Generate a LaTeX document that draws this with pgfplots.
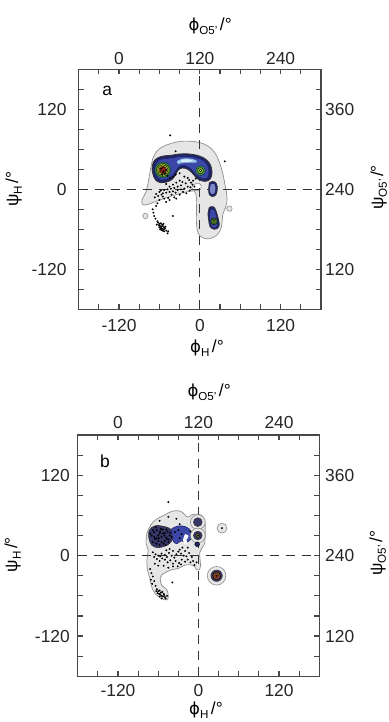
\documentclass[border=0pt]{standalone}
\usepackage{fontspec}
\setmainfont{Liberation Sans}
\newfontfamily\dvs{DejaVu Sans}
\usepackage{pgfplots}
\pgfplotsset{compat=1.18}

\definecolor{gfill}{HTML}{E6E6E6}
\definecolor{gline}{HTML}{8E8E8E}
\definecolor{navy}{HTML}{1F2468}
\definecolor{royal}{HTML}{3B48A8}
\definecolor{lblue}{HTML}{9CC7EA}
\definecolor{cyanw}{HTML}{D2EEF8}
\definecolor{cgreen}{HTML}{3E9A3A}
\definecolor{lgreen}{HTML}{8CC43C}
\definecolor{cyellow}{HTML}{E6D42E}
\definecolor{corange}{HTML}{DE7A2A}
\definecolor{cred}{HTML}{A42222}
\definecolor{axgray}{HTML}{474747}
\definecolor{olivec}{HTML}{8E8C3C}
\definecolor{brownc}{HTML}{7A3C22}
\definecolor{darkc}{HTML}{363668}
\definecolor{lav}{HTML}{7E88C8}

\newcommand{\tfont}{\fontsize{17.4bp}{20bp}\selectfont}
\newcommand{\sfont}{\fontsize{11.6bp}{12bp}\selectfont}
\newcommand{\alab}[2]{{\tfont #1\raisebox{-3.8bp}{\sfont #2}\hspace{2.5bp}/°}}
\newcommand{\phig}{{\dvs\fontsize{16.5bp}{20bp}\selectfont ϕ}}

\pgfplotsset{
  panel/.style={scale only axis, xmin=-180, xmax=180, ymin=-180, ymax=180,
    axis line style={axgray, line width=1.2bp},
    tick style={axgray, line width=1.2bp},
    tick align=inside, major tick length=5bp, minor tick length=5bp,
    xtick={-120,0,120}, ytick={-120,0,120},
    minor xtick={-150,-90,-60,-30,30,60,90,150},
    minor ytick={-150,-90,-60,-30,30,60,90,150},
    xtick pos=both, ytick pos=both, xticklabel pos=left, yticklabel pos=left,
    xticklabels={-120,0,120}, yticklabels={-120,0,120},
    tick label style={font=\tfont, inner sep=0pt, text=black!85},
    xticklabel style={anchor=north}, yticklabel style={anchor=east}},
  overpanel/.style={scale only axis, xmin=-180, xmax=180, ymin=-180, ymax=180,
    axis x line*=top, axis y line*=right, axis line style={draw=none},
    major tick length=0pt, tick style={draw=none},
    xtick={-120,0,120}, ytick={-120,0,120},
    xticklabels={0,120,240}, yticklabels={120,240,360},
    tick label style={font=\tfont, inner sep=0pt, text=black!85},
    xticklabel style={anchor=south}, yticklabel style={anchor=west}},
  grey/.style={fill=gfill, draw=gline, line width=0.7bp, smooth, tension=0.55},
  dots/.style={only marks, mark=*, mark size=0.75bp, mark options={fill=black, draw=none}},
  dash/.style={black!80, line width=1.2bp, dash pattern=on 9bp off 7bp},
  blob/.style={only marks, mark=*, mark size=#1},
}

\begin{document}
\begin{tikzpicture}
\useasboundingbox (0,0) rectangle (389bp,722bp);

% ================= panel a =================
\begin{axis}[panel, at={(78.7bp,412.7bp)}, anchor=south west, width=242.3bp, height=240bp,
  xticklabel style={yshift=-10bp}, yticklabel style={xshift=-12bp}]
\addplot[grey] coordinates {(-70,46) (-64,57) (-55,64) (-42,69) (-28,72) (-12,72) (0,70) (10,66) (19,59) (25,50) (30,38) (34,24) (37,9) (40,-8) (40,-20) (38,-28) (34,-38) (33,-50) (31,-60) (25,-69) (15,-74) (5,-73) (-2,-67) (-5,-52) (-5,-32) (-5,-14) (-8,-3) (-20,-4) (-35,-8) (-50,-13) (-65,-18) (-78,-23) (-85,-23) (-86,-16) (-80,-4) (-76,14) (-73,32) (-70,46)};
\addplot[blob=2.7bp, mark options={fill=gfill, draw=gline, line width=0.6bp}] coordinates {(-81,-40) (44,-29)};
\addplot[fill=white, draw=gline, line width=0.6bp, smooth] coordinates {(-12,3) (-7,8) (-1,9) (2,6) (1,0) (-4,-2) (-10,-1) (-12,3)};
\addplot[dash] coordinates {(0,-180) (0,180)};
\addplot[dash] coordinates {(-180,0) (180,0)};
% band
\addplot[fill=navy, draw=black!80, line width=0.8bp, smooth, tension=0.55] coordinates {(-69,20) (-71,31) (-69,41) (-63,47) (-54,50) (-43,51) (-30,53) (-16,53) (-4,51) (6,47) (13,41) (17,33) (18,23) (15,15) (9,12) (2,13) (-5,17) (-11,24) (-18,30) (-26,32) (-32,29) (-36,22) (-41,15) (-49,11) (-58,10) (-65,13) (-69,20)};
\addplot[fill=royal, draw=navy, line width=0.5bp, smooth, tension=0.55] coordinates {(-66,22) (-67,31) (-65,39) (-60,44) (-52,46) (-42,47) (-30,49) (-16,49) (-5,47) (4,44) (10,38) (13,30) (13,21) (9,16) (2,17) (-5,21) (-11,28) (-18,34) (-26,36) (-32,33) (-37,26) (-42,19) (-50,15) (-58,14) (-63,17) (-66,22)};
\addplot[fill=lblue, draw=none, smooth, tension=0.55] coordinates {(-34,42) (-26,46) (-14,46) (-5,43) (-6,40) (-14,40) (-24,40) (-32,38) (-34,42)};
\addplot[fill=cyanw, draw=none, smooth, tension=0.55] coordinates {(-28,44) (-18,45) (-10,43) (-16,41) (-26,41) (-28,44)};
% left cluster
\addplot[blob=8bp, mark options={fill=cgreen, draw=navy, line width=0.5bp}] coordinates {(-55,29)};
\addplot[blob=6.4bp, mark options={fill=lgreen, draw=none}] coordinates {(-55,29)};
\addplot[blob=5.2bp, mark options={fill=cyellow, draw=none}] coordinates {(-55,29)};
\addplot[blob=3.9bp, mark options={fill=corange, draw=none}] coordinates {(-55,29)};
\addplot[blob=2.8bp, mark options={fill=cred, draw=none}] coordinates {(-55,29)};
% right cluster
\addplot[blob=5bp, mark options={fill=cgreen, draw=navy, line width=0.5bp}] coordinates {(1,28)};
\addplot[blob=3bp, mark options={fill=lgreen, draw=none}] coordinates {(1,28)};
\addplot[blob=1.2bp, mark options={fill=cyellow, draw=none}] coordinates {(1,28)};
% blob near origin
\addplot[fill=navy, draw=black!80, line width=0.6bp, smooth, tension=0.55] coordinates {(14,10) (20,12) (25,8) (26,0) (24,-8) (19,-11) (14,-8) (13,0) (14,10)};
\addplot[fill=lav, draw=none, smooth, tension=0.55] coordinates {(16,7) (21,8) (23,3) (22,-5) (18,-7) (15,-3) (16,7)};
% lower lobe
\addplot[fill=navy, draw=black!80, line width=0.6bp, smooth, tension=0.55] coordinates {(14,-27) (20,-26) (24,-32) (27,-42) (29,-52) (27,-58) (21,-60) (15,-56) (13,-46) (12,-36) (14,-27)};
\addplot[fill=royal, draw=none, smooth, tension=0.55] coordinates {(16,-31) (21,-31) (24,-40) (26,-50) (24,-56) (19,-57) (16,-50) (15,-40) (16,-31)};
\addplot[blob=3.4bp, mark options={fill=cgreen, draw=none}] coordinates {(21,-48)};
\addplot[blob=2.2bp, mark options={fill=lgreen, draw=none}] coordinates {(21,-48)};
\addplot[blob=1bp, mark options={fill=cyellow, draw=none}] coordinates {(21,-48)};
% points
\addplot[dots] coordinates {(-44,81) (-36,57) (37,42) (-40,-40)
(-23,19) (-18,17) (-16,14) (-26,11) (-21,9) (-13,10) (-11,7) (-28,6) (-33,4) (-38,2) (-43,1) (-48,0) (-53,-1) (-58,-2) (-60,-4) (-55,-6) (-50,-5) (-45,-4) (-40,-3) (-33,-1) (-28,0) (-23,1) (-18,4) (-14,3) (-8,4) (-55,-11) (-53,-14) (-60,-16) (-50,-19) (-63,-21) (-65,-25) (-36,-5) (-30,-8) (-25,-4) (-42,-8) (-47,-13) (-57,-8) (-62,-10) (-45,-16) (-38,-12) (-20,-6) (-15,-2) (-10,13) (-6,16) (-35,10) (-40,7) (-45,4) (-50,8) (-30,13) (-65,-7) (-67,-12) (-35,-14)
(-57,31) (-54,27) (-52,24) (-56,22) (-50,29) (-48,20) (-44,17) (-40,19) (-36,22) (-30,24)
(-70,-30) (-69,-35) (-68,-40) (-66,-44)
(-62,-50) (-60,-52) (-58,-51) (-56,-53) (-59,-55) (-57,-56) (-55,-55) (-53,-57) (-58,-58) (-56,-59) (-54,-60) (-52,-59) (-60,-57) (-61,-54) (-55,-62) (-50,-62) (-53,-63) (-57,-61) (-48,-66) (-63,-48) (-54,-52) (-51,-56) (-59,-60) (-47,-63) (-64,-53)};
\node[anchor=base west, font=\tfont] at (axis cs:-150,140) {a};
\end{axis}
\begin{axis}[overpanel, at={(78.7bp,412.7bp)}, anchor=south west, width=242.3bp, height=240bp,
  xticklabel style={yshift=4.3bp}, yticklabel style={xshift=4bp}]
\addplot[draw=none] coordinates {(0,0)};
\end{axis}

% ================= panel b =================
\begin{axis}[panel, at={(77.7bp,45.7bp)}, anchor=south west, width=241.6bp, height=241.3bp,
  xticklabel style={yshift=-8bp}, yticklabel style={xshift=-7.7bp}]
\addplot[grey] coordinates {(-67,51) (-60,56) (-50,61) (-40,66) (-30,67) (-23,64) (-18,58) (-14,58) (-10,61) (-4,62) (3,61) (8,56) (10,48) (10,38) (10,28) (9,18) (5,11) (2,5) (2,-2) (3,-15) (1,-21) (-3,-21) (-6,-16) (-10,-14) (-20,-14) (-30,-19) (-40,-21) (-47,-24) (-55,-29) (-57,-34) (-55,-44) (-47,-51) (-45,-61) (-47,-66) (-55,-64) (-65,-56) (-70,-46) (-72,-36) (-76,-21) (-77,-9) (-76,0) (-75,8) (-78,18) (-77,33) (-72,44) (-67,51)};
\addplot[blob=5bp, mark options={fill=gfill, draw=gline, line width=0.6bp}] coordinates {(35,41)};
\addplot[blob=9.3bp, mark options={fill=gfill, draw=gline, line width=0.6bp}] coordinates {(27,-30)};
\addplot[dash] coordinates {(0,-180) (0,180)};
\addplot[dash] coordinates {(-180,0) (180,0)};
% dense cluster
\addplot[fill=darkc, draw=black!80, line width=0.6bp, smooth, tension=0.55] coordinates {(-74,36) (-70,42) (-62,45) (-54,44) (-46,42) (-40,38) (-37,30) (-40,22) (-46,16) (-54,13) (-62,12) (-70,16) (-74,26) (-74,36)};
\addplot[fill=royal, draw=navy, line width=0.6bp, smooth, tension=0.55] coordinates {(-40,40) (-32,44) (-22,44) (-14,40) (-10,33) (-12,24) (-18,20) (-26,22) (-32,18) (-38,22) (-40,40)};
\addplot[fill=white, draw=none, smooth, tension=0.55] coordinates {(-20,32) (-15,30) (-16,26) (-18,24) (-17,19) (-21,17) (-23,24) (-20,32)};
% circles
\addplot[blob=7.4bp, mark options={fill=gfill, draw=gline, line width=0.6bp}] coordinates {(-1,50) (-1,30)};
\addplot[blob=4.4bp, mark options={fill=darkc, draw=black!80, line width=0.5bp}] coordinates {(-1,50) (-1,30)};
\addplot[blob=2bp, mark options={fill=olivec, draw=none}] coordinates {(-1,30)};
\addplot[blob=2.4bp, mark options={fill=navy, draw=none}] coordinates {(-2,17)};
\addplot[blob=5.7bp, mark options={fill=darkc, draw=black!80, line width=0.5bp}] coordinates {(27,-30)};
\addplot[blob=4bp, mark options={fill=brownc, draw=none}] coordinates {(27,-30)};
\addplot[dots] coordinates {(35,41) (27,-30) (-1,30) (-45,80) (-39,-40)
(-58,52) (-33,55) (-28,47) (-45,58)
(-68,5) (-64,2) (-60,0) (-57,-1) (-55,3) (-50,1) (-47,-2) (-44,4) (-40,0) (-36,-3) (-33,2) (-30,6) (-26,3) (-22,0) (-18,-1) (-14,4) (-10,-2) (-8,-8) (-12,-10) (-16,-6) (-20,-9) (-25,-6) (-29,-11) (-34,-8) (-38,-12) (-42,-7) (-46,-10) (-50,-6) (-54,-4) (-58,-8) (-62,-5) (-66,-2) (-52,-15) (-45,-18) (-38,-16) (-31,-16) (-26,-13) (-6,-14) (-3,-10) (-48,8) (-43,10) (-38,7) (-28,9) (-24,12) (-20,7) (-16,12) (-65,-12) (-60,-15)
(-72,-20) (-70,-26) (-68,-31) (-71,-36) (-66,-38) (-69,-42) (-64,-45)
(-62,-50) (-60,-53) (-58,-52) (-56,-55) (-54,-54) (-52,-57) (-57,-58) (-55,-60) (-53,-61) (-50,-62) (-59,-57) (-61,-56) (-58,-61) (-49,-64) (-47,-60) (-63,-53) (-51,-59) (-55,-64)
(-70,30) (-66,35) (-62,38) (-58,33) (-55,28) (-50,34) (-47,25) (-43,30) (-60,22) (-65,25) (-52,18) (-45,20) (-68,20) (-56,40) (-48,39) (-40,28) (-35,35) (-30,38) (-25,32) (-12,36) (-28,26)
(-72,33) (-68,38) (-64,42) (-60,30) (-57,36) (-53,39) (-51,30) (-48,27) (-46,36) (-44,24) (-42,34) (-63,18) (-58,16) (-55,20) (-50,22) (-66,28) (-62,26) (-59,26) (-53,33) (-49,16)};
\node[anchor=base west, font=\tfont] at (axis cs:-152,132) {b};
\end{axis}
\begin{axis}[overpanel, at={(77.7bp,45.7bp)}, anchor=south west, width=241.6bp, height=241.3bp,
  xticklabel style={yshift=5.7bp}, yticklabel style={xshift=5.7bp}]
\addplot[draw=none] coordinates {(0,0)};
\end{axis}

% axis titles
\node[anchor=base west] at (185bp,691bp) {\alab{\phig}{O5'}};
\node[anchor=base west] at (186.7bp,369bp) {\alab{\phig}{H}};
\node[rotate=90, anchor=base] at (18bp,533bp) {\alab{ψ}{H}};
\node[rotate=90, anchor=base] at (383bp,534.5bp) {\alab{ψ}{O5'}};
\node[anchor=base west] at (184bp,325.3bp) {\alab{\phig}{O5'}};
\node[anchor=base west] at (185.7bp,7.5bp) {\alab{\phig}{H}};
\node[rotate=90, anchor=base] at (17bp,167.3bp) {\alab{ψ}{H}};
\node[rotate=90, anchor=base] at (382bp,168.8bp) {\alab{ψ}{O5'}};
\end{tikzpicture}
\end{document}
